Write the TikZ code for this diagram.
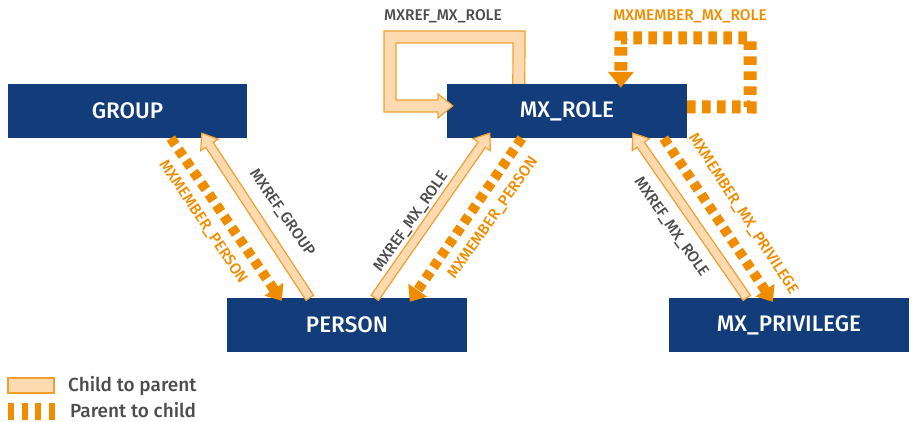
\documentclass[tikz,border=0pt]{standalone}
\usepackage{fontspec}
\setmainfont{Fira Sans}[UprightFont=* Medium]
\usetikzlibrary{arrows.meta,calc}

\definecolor{boxblue}{HTML}{123D7A}
\definecolor{member}{HTML}{F08C00}
\definecolor{reffill}{HTML}{FDDAB0}
\definecolor{refline}{HTML}{F0A030}
\definecolor{labelgray}{HTML}{4D4D4D}

\tikzset{
  entity/.style={fill=boxblue, text=white, minimum width=240pt, minimum height=54pt,
    inner sep=0pt, font=\fontsize{22.5}{22.5}\selectfont},
  hollow/.style={fill=reffill, draw=refline, line width=1.2pt, line join=miter},
  memberline/.style={draw=member, line width=10pt, dash pattern=on 8pt off 5.5pt,
    -{Triangle[width=22pt,length=14pt]}},
  reflabel/.style={text=labelgray, inner sep=0pt, font=\fontsize{15.5}{15.5}\selectfont},
  memlabel/.style={text=member, inner sep=0pt, font=\fontsize{15.5}{15.5}\selectfont},
  legendtext/.style={text=labelgray, anchor=west, inner sep=0pt, font=\fontsize{19}{19}\selectfont},
}

% block arrow (outlined shaft and head) from #1 to #2
\newcommand\blockarrow[2]{%
  \path let \p1=(#1), \p2=(#2),
    \n1={veclen(\x2-\x1,\y2-\y1)}, \n2={atan2(\y2-\y1,\x2-\x1)} in
    \pgfextra{\pgfmathparse{\n1}\xdef\barlen{\pgfmathresult}%
              \pgfmathparse{\n2}\xdef\barang{\pgfmathresult}};
  \draw[hollow, shift={(#1)}, rotate=\barang]
    (0,-4.5) -- ({\barlen-14},-4.5) -- ({\barlen-14},-10.5) -- (\barlen,0)
    -- ({\barlen-14},10.5) -- ({\barlen-14},4.5) -- (0,4.5) -- cycle;
}

\begin{document}
\begin{tikzpicture}[x=1pt,y=-1pt]
\useasboundingbox (0,0) rectangle (914,422);

% entities
\node[entity, minimum width=239pt] (grp)  at (127.5,111) {GROUP};
\node[entity] (role) at (567,111) {MX\_ROLE};
\node[entity] (per)  at (347,325) {PERSON};
\node[entity] (priv) at (789,325) {MX\_PRIVILEGE};

% self reference of MX_ROLE
\fill[reffill] (525,84) -- (525,31) -- (384,31) -- (384,112) -- (438,112) -- (438,118)
  -- (453,106) -- (438,94) -- (438,100) -- (396,100) -- (396,43) -- (513,43) -- (513,84) -- cycle;
\draw[hollow, fill=none] ($(role.north west)+(78,0)$) -- (525,31) -- (384,31) -- (384,112)
  -- (438,112) -- (438,118) -- ($(role.north west)+(6,22)$) -- (438,94) -- (438,100)
  -- (396,100) -- (396,43) -- (513,43) -- ($(role.north west)+(66,0)$);
\node[reflabel] (lblrr) at (443,16) {MXREF\_MX\_ROLE};

% member loop of MX_ROLE
\draw[memberline, line width=13pt, dash pattern=on 8.5pt off 6.5pt,
      -{Triangle[width=25pt,length=16pt]}]
  ($(role.north east)+(0,23)$) -- (750,107) -- (750,38) -- (621,38) -- ($(role.north west)+(174,4)$);
\node[memlabel] (lblmr) at (690,16) {MXMEMBER\_MX\_ROLE};

% GROUP -- PERSON
\blockarrow{$(per.north west)+(83,0)$}{$(grp.south west)+(194,-5)$}
\draw[memberline] ($(grp.south west)+(163,0)$) -- ($(per.north west)+(55,3)$);
\node[memlabel, rotate=-56] (lblmp1) at (203,222) {MXMEMBER\_PERSON};
\node[reflabel, rotate=-55] (lblrg) at (282,213) {MXREF\_GROUP};

% PERSON -- MX_ROLE
\blockarrow{$(per.north west)+(148,0)$}{$(role.south west)+(43,-5)$}
\draw[memberline] ($(role.south west)+(75,0)$) -- ($(per.north west)+(183,4)$);
\node[reflabel, rotate=55] (lblrr2) at (411,222) {MXREF\_MX\_ROLE};
\node[memlabel, rotate=55] (lblmp2) at (493,218) {MXMEMBER\_PERSON};

% MX_PRIVILEGE -- MX_ROLE
\blockarrow{$(priv.north west)+(78,0)$}{$(role.south west)+(186,-5)$}
\draw[memberline] ($(role.south west)+(217,0)$) -- ($(priv.north west)+(104,4)$);
\node[reflabel, rotate=-55] (lblrr3) at (671,227) {MXREF\_MX\_ROLE};
\node[memlabel, rotate=-57] (lblmpv) at (743,214) {MXMEMBER\_MX\_PRIVILEGE};

% legend
\node[hollow, minimum width=46pt, minimum height=15pt, inner sep=0pt] (lgref) at (31,385.5) {};
\node[legendtext] (lgreft) at (68,385.5) {Child to parent};
\coordinate (lgm1) at (8,411.5);
\coordinate (lgm2) at (55,411.5);
\draw[member, line width=17pt, dash pattern=on 6pt off 7.7pt] (lgm1) -- (lgm2);
\node[legendtext] (lgmemt) at (70,410.5) {Parent to child};
\end{tikzpicture}
\end{document}
